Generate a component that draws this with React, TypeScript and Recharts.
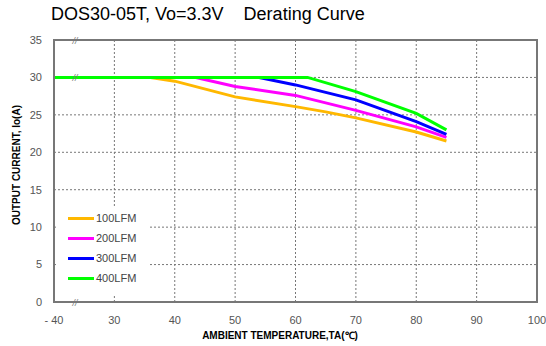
import { LineChart, Line, XAxis, YAxis, CartesianGrid, ReferenceDot } from 'recharts'

// temperature axis is broken between -40 and 30, -40 is drawn where 20 would be
const BREAK_POS = 20
const pos = (t: number) => (t === -40 ? BREAK_POS : t)

const xTicks = [-40, 30, 40, 50, 60, 70, 80, 90, 100]
const yTicks = [0, 5, 10, 15, 20, 25, 30, 35]

const temp100 = [-40, 36, 40, 50, 60, 65, 70, 80, 85]
const amps100 = [30, 30, 29.5, 27.4, 26.1, 25.4, 24.6, 22.7, 21.5]

const temp200 = [-40, 43.5, 50, 60, 70, 80, 85]
const amps200 = [30, 30, 28.8, 27.6, 25.6, 23.4, 22.0]

const temp300 = [-40, 54, 60, 70, 80, 85]
const amps300 = [30, 30, 29, 27, 24.1, 22.4]

const temp400 = [-40, 62, 70, 80, 85]
const amps400 = [30, 30, 28.1, 25.2, 23.0]

const seriesNames = ['100LFM', '200LFM', '300LFM', '400LFM']
const COLORS = ['#ffb800', '#ff00ff', '#0000ff', '#00ff00']

const toPoints = (ts: number[], vs: number[]) => ts.map((t, i) => ({ x: pos(t), y: vs[i] }))

const series = [
  toPoints(temp100, amps100),
  toPoints(temp200, amps200),
  toPoints(temp300, amps300),
  toPoints(temp400, amps400),
]

const breakMarks = [35, 30, 0]

const BreakShape = (props: any) => (
  <text x={props.cx} y={props.cy + 4} textAnchor="middle" fontSize={9} fontStyle="italic" fill="#777">
    //
  </text>
)

const W = 546
const H = 346
const M = { top: 40, right: 9, bottom: 44, left: 54 }

export default function App() {
  return (
    <div style={{ position: 'absolute', left: 0, top: 0, width: W, height: H, background: '#fff', fontFamily: 'Arial, "Liberation Sans", sans-serif' }}>
      <div style={{ position: 'absolute', left: 51, top: 4, fontSize: 18, whiteSpace: 'pre', color: '#000' }}>
        {'DOS30-05T, Vo=3.3V    Derating Curve'}
      </div>
      <LineChart width={W} height={H} margin={{ top: M.top, right: M.right, bottom: 0, left: 0 }}>
        <CartesianGrid
          xAxisId="b"
          yAxisId="l"
          stroke="#777"
          strokeDasharray="2 2"
          horizontalValues={[5, 10, 15, 20, 25, 30]}
          verticalValues={[30, 40, 50, 60, 70, 80, 90]}
        />
        <XAxis
          xAxisId="b"
          type="number"
          dataKey="x"
          domain={[BREAK_POS, 100]}
          ticks={xTicks.map(pos)}
          tickFormatter={(v: number) => (v === BREAK_POS ? '- 40' : String(v))}
          height={M.bottom}
          axisLine={{ stroke: '#777' }}
          tick={{ fill: '#555', fontSize: 11 }}
          tickLine={false}
          tickMargin={8}
          allowDuplicatedCategory={false}
        />
        <YAxis
          yAxisId="l"
          type="number"
          domain={[0, 35]}
          ticks={yTicks}
          width={M.left}
          axisLine={{ stroke: '#777' }}
          tick={{ fill: '#555', fontSize: 11 }}
          tickLine={false}
          tickMargin={6}
        />
        {series.map((pts, i) => (
          <Line
            key={seriesNames[i]}
            xAxisId="b"
            yAxisId="l"
            data={pts}
            dataKey="y"
            name={seriesNames[i]}
            type="linear"
            stroke={COLORS[i]}
            strokeWidth={3}
            dot={false}
            isAnimationActive={false}
          />
        ))}
        {breakMarks.map((v) => (
          <ReferenceDot key={v} xAxisId="b" yAxisId="l" x={23.5} y={v} shape={BreakShape} ifOverflow="visible" />
        ))}
      </LineChart>
      {/* plot frame */}
      <div
        style={{
          position: 'absolute',
          left: M.left - 1,
          top: M.top - 1,
          width: W - M.left - M.right + 2,
          height: H - M.top - M.bottom + 2,
          boxSizing: 'border-box',
          border: '2px solid #777',
          pointerEvents: 'none',
        }}
      />
      <div style={{ position: 'absolute', left: 57, top: 208, width: 91, height: 88, background: '#fff' }}>
        {seriesNames.map((n, i) => (
          <div key={n} style={{ position: 'absolute', left: 11, top: 4 + i * 20, display: 'flex', alignItems: 'center' }}>
            <div style={{ width: 26, height: 3, background: COLORS[i] }} />
            <span style={{ fontSize: 11, color: '#444', marginLeft: 2 }}>{n}</span>
          </div>
        ))}
      </div>
      <div style={{ position: 'absolute', left: 16, top: 165, transform: 'translate(-50%, -50%) rotate(-90deg)', fontSize: 10, fontWeight: 'bold', whiteSpace: 'nowrap' }}>
        OUTPUT CURRENT, Io(A)
      </div>
      <div style={{ position: 'absolute', left: 280, top: 335, transform: 'translate(-50%, -50%)', fontSize: 10, fontWeight: 'bold', whiteSpace: 'nowrap' }}>
        AMBIENT TEMPERATURE,TA(℃)
      </div>
    </div>
  )
}
